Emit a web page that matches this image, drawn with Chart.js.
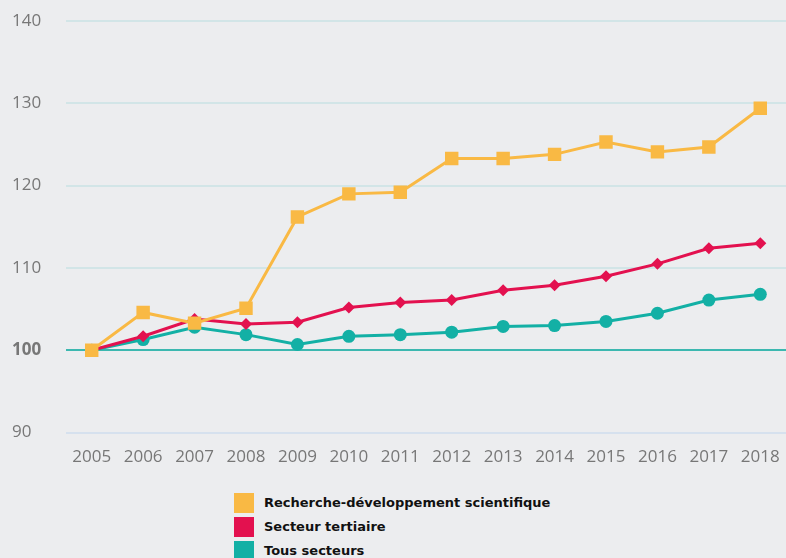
<!DOCTYPE html>
<html>
<head>
<meta charset="utf-8">
<script src="https://cdn.jsdelivr.net/npm/chart.js@4"></script>
<style>
  html, body { margin: 0; padding: 0; background: #ecedef; }
  #wrap { position: relative; width: 786px; height: 558px; overflow: hidden; }
  #chart { position: absolute; left: 0; top: 0; }
  #legend { position: absolute; left: 234px; top: 493px; font-family: "DejaVu Sans", sans-serif; font-weight: bold; font-size: 13px; color: #111; }
  #legend div { height: 24px; display: flex; align-items: flex-start; }
  #legend span.box { display: inline-block; width: 20px; height: 20px; margin-right: 10px; }
  #legend span.lbl { line-height: 20px; }
</style>
</head>
<body>
<div id="wrap">
  <canvas id="chart" width="786" height="480"></canvas>
  <div id="legend"></div>
</div>
<script>
var years = ['2005', '2006', '2007', '2008', '2009', '2010', '2011', '2012', '2013', '2014', '2015', '2016', '2017', '2018'];
var recherche = [100, 104.6, 103.3, 105.1, 116.2, 119.0, 119.2, 123.3, 123.3, 123.8, 125.3, 124.1, 124.7, 129.4];
var tertiaire = [100, 101.7, 103.8, 103.2, 103.4, 105.2, 105.8, 106.1, 107.3, 107.9, 109.0, 110.5, 112.4, 113.0];
var tous = [100, 101.3, 102.8, 101.9, 100.7, 101.7, 101.9, 102.2, 102.9, 103.0, 103.5, 104.5, 106.1, 106.8];
var seriesNames = ['Recherche-développement scientifique', 'Secteur tertiaire', 'Tous secteurs'];
var seriesColors = ['#f9b944', '#e3114f', '#13b0a5'];

var ctx = document.getElementById('chart').getContext('2d');

var chart = new Chart(ctx, {
    type: 'line',
    data: {
        labels: years,
        datasets: [{
            label: seriesNames[0],
            data: recherche,
            borderColor: seriesColors[0],
            backgroundColor: seriesColors[0],
            borderWidth: 3,
            pointStyle: 'rect',
            pointRadius: 9.5,
            pointBorderWidth: 0
        }, {
            label: seriesNames[1],
            data: tertiaire,
            borderColor: seriesColors[1],
            backgroundColor: seriesColors[1],
            borderWidth: 3,
            pointStyle: 'rectRot',
            pointRadius: 6,
            pointBorderWidth: 0
        }, {
            label: seriesNames[2],
            data: tous,
            borderColor: seriesColors[2],
            backgroundColor: seriesColors[2],
            borderWidth: 3,
            pointStyle: 'circle',
            pointRadius: 6.5,
            pointBorderWidth: 0
        }]
    },
    options: {
        responsive: false,
        animation: false,
        layout: { autoPadding: false, padding: { top: 21, right: 0, left: 12, bottom: 13 } },
        plugins: {
            legend: { display: false },
            tooltip: { enabled: false }
        },
        scales: {
            x: {
                offset: true,
                grid: {
                    drawOnChartArea: false,
                    drawTicks: true,
                    tickLength: 14,
                    color: 'transparent',
                    tickColor: 'transparent'
                },
                border: { display: false },
                ticks: {
                    padding: 0,
                    color: '#777',
                    font: { family: 'Open Sans', size: 17 },
                    maxRotation: 0
                }
            },
            y: {
                min: 90,
                max: 140,
                afterFit: function (scale) { scale.width = 54; },
                ticks: {
                    stepSize: 10,
                    padding: 0,
                    crossAlign: 'far',
                    color: '#777',
                    font: function (c) {
                        return { family: 'Open Sans', size: 17, weight: c.tick && c.tick.value === 100 ? 'bold' : 'normal' };
                    }
                },
                grid: {
                    drawTicks: false,
                    lineWidth: 2,
                    color: function (c) {
                        if (c.tick.value === 100) return '#3cb8b0';
                        if (c.tick.value === 90) return '#d6e1ee';
                        return '#d2e5e7';
                    }
                },
                border: { display: false }
            }
        }
    }
});

var legend = document.getElementById('legend');
chart.data.datasets.forEach(function (ds) {
    var row = document.createElement('div');
    row.innerHTML = '<span class="box" style="background:' + ds.backgroundColor + '"></span><span class="lbl">' + ds.label + '</span>';
    legend.appendChild(row);
});
</script>
</body>
</html>
